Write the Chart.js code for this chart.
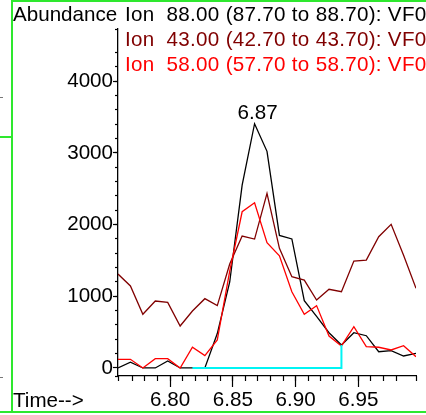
<!DOCTYPE html>
<html>
<head>
<meta charset="utf-8">
<script src="https://cdn.jsdelivr.net/npm/chart.js@4.4.0/dist/chart.umd.min.js"></script>
<style>
  html, body { margin: 0; padding: 0; background: #fff; }
  #wrap { position: relative; width: 426px; height: 415px; overflow: hidden; font-family: "Liberation Sans", Arial, sans-serif; }
  #frame { position: absolute; left: 11px; top: 0; width: 430px; height: 413px; box-sizing: border-box;
           border-left: 2px solid #2ee82e; border-top: 2px solid #2ee82e; border-bottom: 2px solid #2ee82e; }
  .edge { position: absolute; background: #2ee82e; }
  .mark { position: absolute; background: #777; width: 3px; height: 1px; left: 0; }
  canvas { position: absolute; left: 0; top: 0; }
  .txt { position: absolute; font-size: 20.6px; line-height: 20.6px; white-space: pre; }
  .ion { letter-spacing: 0.3px; }
</style>
</head>
<body>
<div id="wrap">
  <div id="frame"></div>
  <div class="edge" style="left:0;top:136px;width:12px;height:2px"></div>
  <div class="edge" style="left:0;top:411px;width:12px;height:2px"></div>
  <div class="mark" style="top:97px"></div>
  <div class="mark" style="top:377px"></div>
  <canvas id="tic" width="426" height="415"></canvas>
  <div class="txt" style="left:13px;top:4px;color:#000">Abundance</div>
  <div class="txt ion" style="left:125px;top:4px;color:#000">Ion  88.00 (87.70 to 88.70): VF0</div>
  <div class="txt ion" style="left:125px;top:29px;color:#800000">Ion  43.00 (42.70 to 43.70): VF0</div>
  <div class="txt ion" style="left:125px;top:54px;color:#ff0000">Ion  58.00 (57.70 to 58.70): VF0</div>
  <div class="txt" style="left:13px;top:390px;color:#000">Time--&gt;</div>
</div>
<script>
// scan times (min) and extracted ion abundances
const scanTimes = [6.7585, 6.7684, 6.7783, 6.7882, 6.7981, 6.8080, 6.8178, 6.8277, 6.8376, 6.8475,
                   6.8574, 6.8673, 6.8772, 6.8871, 6.8970, 6.9069, 6.9167, 6.9266, 6.9365, 6.9464,
                   6.9563, 6.9662, 6.9761, 6.9860, 6.9959];
const ion88 = [0, 80, 0, 0, 98, 0, 0, 0, 480, 1200, 2550, 3408, 3023, 1850, 1800, 940, 720, 492, 321, 492, 450, 227, 241, 167, 205];
const ion43 = [1311, 1144, 749, 934, 916, 586, 795, 967, 870, 1450, 1841, 1799, 2436, 1669, 1273, 1227, 948, 1098, 1064, 1492, 1506, 1831, 2004, 1572, 1112];
const ion58 = [121, 121, 0, 130, 130, 0, 289, 172, 391, 1350, 2180, 2306, 1748, 1566, 1064, 750, 870, 446, 307, 576, 297, 289, 251, 311, 158];

// integration baseline for the 88 peak: start scan, end scan
const baseStart = 6, baseEnd = 18;

const xTickLabels = ['6.80', '6.85', '6.90', '6.95'];
const yTickValues = [0, 1000, 2000, 3000, 4000];
const yMin = -112, yMax = 4730;
const xMin = scanTimes[0], xMax = scanTimes[scanTimes.length - 1];

const font = { family: 'Liberation Sans', size: 20.6 };

function pts(vals) { return vals.map((v, i) => ({ x: scanTimes[i], y: v })); }

const baseline = [
  { x: scanTimes[baseStart], y: 0 },
  { x: scanTimes[baseEnd], y: 0 },
  { x: scanTimes[baseEnd], y: ion88[baseEnd] }
];

// retention time label over the apex of ion 88
const apexLabel = {
  id: 'apexLabel',
  afterDatasetsDraw(chart) {
    const apex = ion88.indexOf(Math.max(...ion88));
    const x = chart.scales.x.getPixelForValue(scanTimes[apex]);
    const y = chart.scales.y.getPixelForValue(ion88[apex]);
    const ctx = chart.ctx;
    ctx.save();
    ctx.font = font.size + 'px ' + font.family;
    ctx.fillStyle = '#000';
    ctx.textAlign = 'center';
    ctx.textBaseline = 'alphabetic';
    ctx.fillText(scanTimes[apex].toFixed(2), x + 3, y - 4.3);
    ctx.restore();
  }
};

const line = (label, data, color, order, width) => ({
  label, data, borderColor: color, borderWidth: width || 1.3, pointRadius: 0, tension: 0,
  fill: false, order, xAxisID: 'x', yAxisID: 'y'
});

new Chart(document.getElementById('tic'), {
  type: 'line',
  data: {
    datasets: [
      line('88', pts(ion88), '#000000', 3),
      line('43', pts(ion43), '#800000', 2),
      line('58', pts(ion58), '#ff0000', 1),
      line('base', baseline, '#00f4f4', 0, 2)
    ]
  },
  options: {
    responsive: false,
    animation: false,
    events: [],
    layout: { padding: { top: 29, right: 10, left: 0, bottom: 0 } },
    plugins: { legend: { display: false }, tooltip: { enabled: false } },
    scales: {
      x: {
        type: 'linear', position: 'bottom', min: xMin, max: xMax,
        afterBuildTicks: ax => { ax.ticks = xTickLabels.map(v => ({ value: parseFloat(v) })); },
        afterFit: ax => { ax.height = 39; },
        ticks: { font, color: '#000', padding: 1, maxRotation: 0, autoSkip: false, callback: v => v.toFixed(2) },
        grid: { drawOnChartArea: false, tickLength: 11, tickColor: '#000', tickWidth: 1.2 },
        border: { color: '#000', width: 1.3 }
      },
      xMinor: {
        type: 'linear', axis: 'x', position: { y: yMin }, min: xMin, max: xMax,
        ticks: { display: false, stepSize: 0.01 },
        grid: { drawOnChartArea: false, tickLength: 5, tickColor: '#000', tickWidth: 1.2 },
        border: { display: false }
      },
      y: {
        type: 'linear', position: 'left', min: yMin, max: yMax,
        afterBuildTicks: ax => { ax.ticks = yTickValues.map(v => ({ value: v })); },
        afterFit: ax => { ax.width = 118; },
        ticks: { font, color: '#000', padding: 0, callback: v => String(v) },
        grid: { drawOnChartArea: false, tickLength: 5, tickColor: '#000', tickWidth: 1.2 },
        border: { color: '#000', width: 1.3 }
      },
      yMinor: {
        type: 'linear', axis: 'y', position: { x: xMin }, min: yMin, max: yMax,
        ticks: { display: false, stepSize: 200 },
        grid: { drawOnChartArea: false, tickLength: 3, tickColor: '#000', tickWidth: 1.2 },
        border: { display: false }
      }
    }
  },
  plugins: [apexLabel]
});
</script>
</body>
</html>
